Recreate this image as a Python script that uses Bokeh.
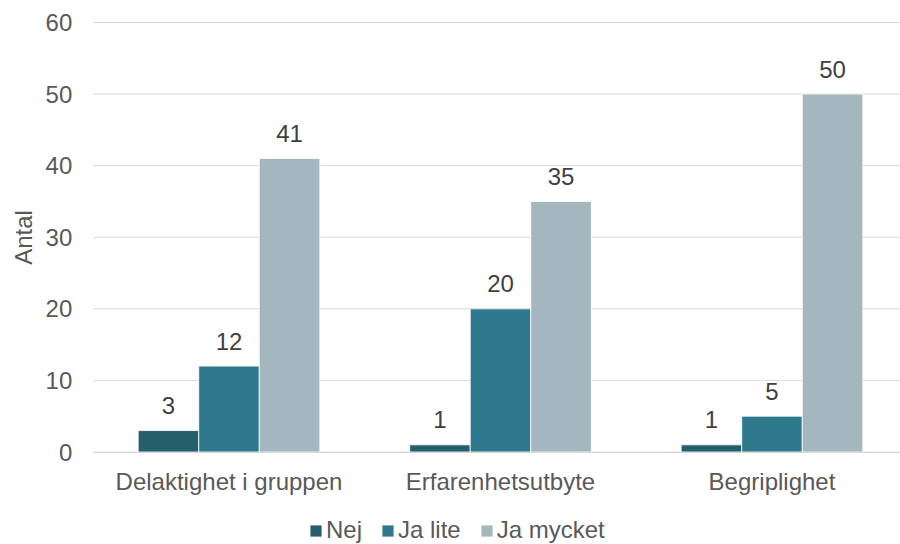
import math
from bokeh.plotting import figure
from bokeh.models import (ColumnDataSource, FixedTicker, Legend, LegendItem,
                          Range1d, Label)
from bokeh.embed import file_html
from bokeh.resources import INLINE
from bokeh.core.properties import value

categories = ["Delaktighet i gruppen", "Erfarenhetsutbyte", "Begriplighet"]
series = ["Nej", "Ja lite", "Ja mycket"]
nej = [3, 1, 1]
ja_lite = [12, 20, 5]
ja_mycket = [41, 35, 50]
y_ticks = [0, 10, 20, 30, 40, 50, 60]

colors = ["#265f6c", "#2e798c", "#a4b7bf"]
offsets = [-0.223, 0.0, 0.223]
bar_w = 0.223
FONT = "Liberation Sans"
TXT = "#595959"

# the frame covers the whole canvas; axes sit at fixed data locations
X0, X1 = -0.3416, 2.9733
Y0, Y1 = -12.92, 63.07
n = len(categories)

p = figure(width=900, height=544, output_backend="svg", toolbar_location=None,
           x_range=Range1d(X0, X1), y_range=Range1d(Y0, Y1),
           min_border_left=0, min_border_right=0, min_border_top=0,
           min_border_bottom=0)
p.outline_line_color = None
p.background_fill_color = "white"
p.border_fill_color = "white"
p.xgrid.grid_line_color = None
p.ygrid.grid_line_color = None

# horizontal gridlines from the tick values
p.segment(x0=[0] * len(y_ticks), x1=[X1] * len(y_ticks), y0=y_ticks, y1=y_ticks,
          line_color="#d9d9d9", line_width=1)

items = []
for vals, name, col, off in zip([nej, ja_lite, ja_mycket], series, colors, offsets):
    xs = [i + 0.5 + off for i in range(n)]
    src = ColumnDataSource(dict(x=xs, top=vals, lab=[str(v) for v in vals]))
    r = p.vbar(x="x", top="top", width=bar_w, source=src, fill_color=col,
               line_color="white", line_width=0.8)
    p.text(x="x", y="top", text="lab", source=src, text_align="center",
           text_baseline="alphabetic", y_offset=-25, text_color="#404040",
           text_font=value(FONT), text_font_size="24px")
    items.append(LegendItem(label=name, renderers=[r]))

# x axis (categories) at y = 0
xa = p.xaxis[0]
xa.fixed_location = 0
xa.bounds = (0, X1)
xa.ticker = FixedTicker(ticks=[i + 0.5 for i in range(n)])
xa.major_label_overrides = {i + 0.5: c for i, c in enumerate(categories)}
xa.major_tick_line_color = None
xa.minor_tick_line_color = None
xa.major_tick_out = 0
xa.major_tick_in = 0
xa.axis_line_color = "#d9d9d9"
xa.major_label_text_font = FONT
xa.major_label_text_font_size = "24px"
xa.major_label_text_color = TXT
xa.major_label_standoff = 16

# y axis at x = 0
ya = p.yaxis[0]
ya.fixed_location = 0
ya.bounds = (0, 60)
ya.ticker = FixedTicker(ticks=y_ticks)
ya.axis_line_color = None
ya.major_tick_line_color = None
ya.minor_tick_line_color = None
ya.major_tick_out = 0
ya.major_tick_in = 0
ya.major_label_text_font = FONT
ya.major_label_text_font_size = "24px"
ya.major_label_text_color = TXT
ya.major_label_standoff = 21

p.add_layout(Label(x=23, y=307, x_units="screen", y_units="screen", text="Antal",
                   angle=math.pi / 2, text_align="center", text_baseline="middle",
                   text_font=FONT, text_font_size="24px", text_color=TXT))

legend = Legend(items=items, orientation="horizontal", location=(308, 0),
                label_text_font=FONT, label_text_font_size="24px",
                label_text_color=TXT, glyph_width=15, glyph_height=15,
                label_standoff=3, spacing=18, padding=1, margin=0,
                border_line_color=None, background_fill_color=None)
p.add_layout(legend, "center")

open("out.html", "w").write(file_html(p, INLINE))
